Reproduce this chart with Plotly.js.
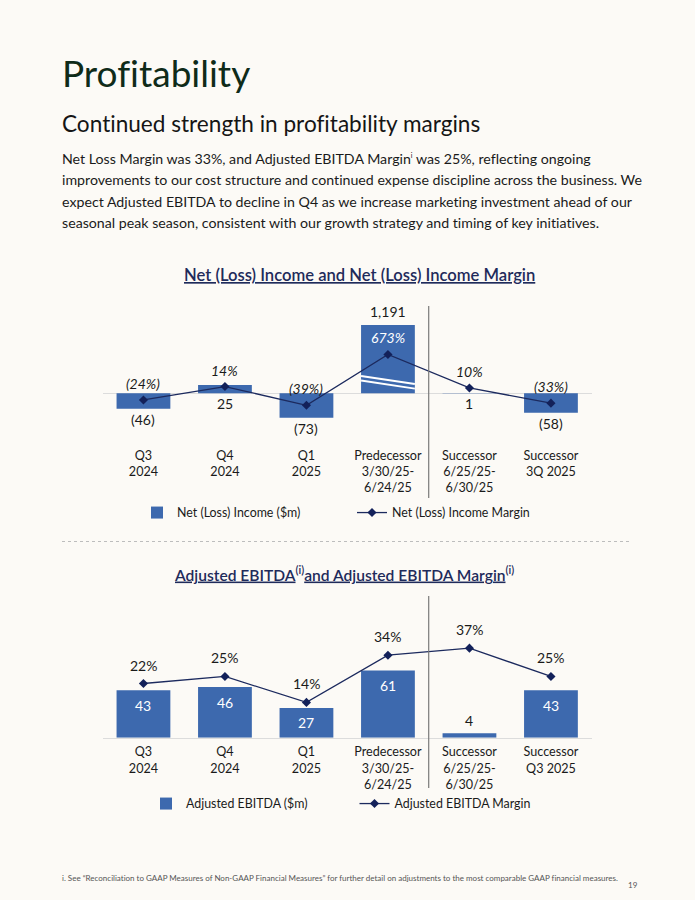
<!DOCTYPE html>
<html>
<head>
<meta charset="utf-8">
<script src="https://cdn.plot.ly/plotly-3.0.1.min.js"></script>
<style>
  html, body { margin: 0; padding: 0; background: #FCFAF6; }
  #page { position: relative; width: 695px; height: 900px; overflow: hidden; background: #FCFAF6; font-family: Lato, "Open Sans", sans-serif; font-variant-ligatures: none; }
  #chart { position: absolute; left: 0; top: 0; width: 695px; height: 900px; }
  #chart text { font-variant-ligatures: none; }
  .txt { position: absolute; left: 62px; z-index: 2; white-space: nowrap; font-variant-ligatures: none; }
  #h1 { top: 50px; font-size: 37px; color: #0F2B19; font-weight: 400; }
  #h2 { top: 110px; font-size: 22.6px; color: #151515; }
  #para { top: 148px; font-size: 14.2px; line-height: 21.3px; color: #1A1A1A; }
  #para sup { font-size: 7px; vertical-align: 6px; line-height: 0; }
  #foot { top: 873px; font-size: 8px; color: #555; }
  #pnum { top: 880px; left: 628px; font-size: 8px; color: #555; }
</style>
</head>
<body>
<div id="page">
  <div id="chart"></div>
  <div class="txt" id="h1">Profitability</div>
  <div class="txt" id="h2">Continued strength in profitability margins</div>
  <div class="txt" id="para">Net Loss Margin was 33%, and Adjusted EBITDA Margin<sup>i</sup> was 25%, reflecting ongoing<br>improvements to our cost structure and continued expense discipline across the business. We<br>expect Adjusted EBITDA to decline in Q4 as we increase marketing investment ahead of our<br>seasonal peak season, consistent with our growth strategy and timing of key initiatives.</div>
  <div class="txt" id="foot">i. See “Reconciliation to GAAP Measures of Non-GAAP Financial Measures” for further detail on adjustments to the most comparable GAAP financial measures.</div>
  <div class="txt" id="pnum">19</div>
</div>
<script>
// ---------------- data ----------------
const netCategories = ["Q3<br>2024", "Q4<br>2024", "Q1<br>2025", "Predecessor<br>3/30/25-<br>6/24/25", "Successor<br>6/25/25-<br>6/30/25", "Successor<br>3Q 2025"];
const netIncome = [-46, 25, -73, 1191, 1, -58];          // $m
const netMargin = [-24, 14, -39, 673, 10, -33];          // %

const ebitdaCategories = ["Q3<br>2024", "Q4<br>2024", "Q1<br>2025", "Predecessor<br>3/30/25-<br>6/24/25", "Successor<br>6/25/25-<br>6/30/25", "Successor<br>Q3 2025"];
const adjEbitda = [43, 46, 27, 61, 4, 43];               // $m
const adjMargin = [22, 25, 14, 34, 37, 25];              // %

// broken-axis display settings (chart 1)
const NET_AXIS_TOP = 204;        // bar axis is cut here (the 1,191 bar is truncated)
const MARGIN_BREAK_AT = 105;     // margin line shown capped at this value on its broken axis

// ---------------- styles ----------------
const BAR = "#3D69AE";
const LINE = "#1C2A5E";
const FONT = "Lato, 'Open Sans', sans-serif";
const TXT = "#1A1A1A";
const W = 695, H = 900;
const px = v => v / W;
const py = v => 1 - v / H;

const fmtNum = v => {
  const s = Math.abs(v).toLocaleString("en-US");
  return v < 0 ? "(" + s + ")" : s;
};
const fmtPct = v => (v < 0 ? "(" + Math.abs(v) + "%)" : v + "%");

const netMarginShown = netMargin.map(v => Math.min(v, MARGIN_BREAK_AT));

const traces = [
  { type: "bar", x: netCategories, y: netIncome, xaxis: "x", yaxis: "y", width: 0.66,
    marker: { color: BAR }, name: "Net (Loss) Income ($m)", legend: "legend", hoverinfo: "skip" },
  { type: "scatter", mode: "lines+markers", x: netCategories, y: netMarginShown, xaxis: "x", yaxis: "y2",
    line: { color: LINE, width: 1.3 }, marker: { symbol: "diamond", size: 7, color: "#13215A" },
    name: "Net (Loss) Income Margin", legend: "legend", cliponaxis: false, hoverinfo: "skip" },
  { type: "bar", x: ebitdaCategories, y: adjEbitda, xaxis: "x2", yaxis: "y3", width: 0.66,
    marker: { color: BAR }, name: "Adjusted EBITDA ($m)", legend: "legend2", hoverinfo: "skip" },
  { type: "scatter", mode: "lines+markers", x: ebitdaCategories, y: adjMargin, xaxis: "x2", yaxis: "y4",
    line: { color: LINE, width: 1.3 }, marker: { symbol: "diamond", size: 7, color: "#13215A" },
    name: "Adjusted EBITDA Margin", legend: "legend2", cliponaxis: false, hoverinfo: "skip" }
];

const annotations = [];
// chart titles
annotations.push({ xref: "paper", yref: "paper", x: px(359), y: py(275), text: "<u>Net (Loss) Income and Net (Loss) Income Margin</u>",
  showarrow: false, font: { family: FONT, size: 16.6, color: "#1F2B5B", weight: 600 }, xanchor: "center", yanchor: "middle" });
annotations.push({ xref: "paper", yref: "paper", x: px(344), y: py(573),
  text: "<u>Adjusted EBITDA</u><sup><span style=\"font-size:11px\">(i)</span></sup><u>and Adjusted EBITDA Margin</u><sup><span style=\"font-size:11px\">(i)</span></sup>",
  showarrow: false, font: { family: FONT, size: 15.6, color: "#1F2B5B", weight: 600 }, xanchor: "center", yanchor: "middle" });

// chart 1 bar labels
netIncome.forEach((v, i) => {
  const clipped = v > NET_AXIS_TOP;
  let a = { xref: "x", yref: "y", x: netCategories[i], showarrow: false, text: fmtNum(v),
    font: { family: FONT, size: 14, color: TXT }, xanchor: "center" };
  if (clipped) { a.y = NET_AXIS_TOP; a.yanchor = "bottom"; a.yshift = 3; }
  else if (v >= 0) { a.y = 0; a.yanchor = "top"; a.yshift = 0; }
  else { a.y = v; a.yanchor = "top"; a.yshift = 0; }
  annotations.push(a);
});
// chart 1 margin labels
netMargin.forEach((v, i) => {
  const inside = v > MARGIN_BREAK_AT;
  annotations.push({ xref: "x", yref: "y2", x: netCategories[i], y: inside ? MARGIN_BREAK_AT : v,
    text: "<i>" + fmtPct(v) + "</i>", showarrow: false, xanchor: "center", yanchor: "bottom", yshift: 6,
    font: { family: FONT, size: 14, color: inside ? "#FFFFFF" : TXT } });
});
// chart 2 bar labels
adjEbitda.forEach((v, i) => {
  const small = v < 10;
  annotations.push({ xref: "x2", yref: "y3", x: ebitdaCategories[i], y: v, text: String(v), showarrow: false,
    xanchor: "center", yanchor: small ? "bottom" : "middle", yshift: small ? 2 : -15,
    font: { family: FONT, size: 14, color: small ? TXT : "#FFFFFF" } });
});
// chart 2 margin labels
adjMargin.forEach((v, i) => {
  annotations.push({ xref: "x2", yref: "y4", x: ebitdaCategories[i], y: v, text: fmtPct(v), showarrow: false,
    xanchor: "center", yanchor: "bottom", yshift: 8, font: { family: FONT, size: 14, color: TXT } });
});

const shapes = [
  // divider predecessor / successor
  { type: "line", xref: "x", yref: "paper", x0: 3.5, x1: 3.5, y0: py(306), y1: py(498), line: { color: "#7A7A7A", width: 1.2 } },
  { type: "line", xref: "x2", yref: "paper", x0: 3.5, x1: 3.5, y0: py(596), y1: py(788), line: { color: "#7A7A7A", width: 1.2 } },
  // axis-break marks on the truncated bar
  { type: "line", xref: "x", yref: "y", x0: 2.67, x1: 3.33, y0: 52, y1: 28, line: { color: "#FFFFFF", width: 2 } },
  { type: "line", xref: "x", yref: "y", x0: 2.67, x1: 3.33, y0: 38, y1: 14, line: { color: "#FFFFFF", width: 2 } },
  // dotted separator between charts
  { type: "line", xref: "paper", yref: "paper", x0: px(62), x1: px(632), y0: py(541.5), y1: py(541.5), line: { color: "#BDBDBD", width: 1, dash: "dot" } }
];

const xCommon = { type: "category", range: [-0.5, 5.5], showgrid: false, zeroline: false, ticks: "", fixedrange: true,
  ticklabelstandoff: 4, tickfont: { family: FONT, size: 12.6, color: TXT }, domain: [px(102.7), px(591.7)] };

const layout = {
  width: W, height: H,
  margin: { l: 0, r: 0, t: 0, b: 0 },
  paper_bgcolor: "rgba(0,0,0,0)", plot_bgcolor: "rgba(0,0,0,0)",
  font: { family: FONT, color: TXT },
  showlegend: true,
  xaxis: Object.assign({}, xCommon, { anchor: "y", showline: false }),
  yaxis: { domain: [py(442), py(325)], range: [-145.4, NET_AXIS_TOP], showgrid: false, showticklabels: false,
    zeroline: true, zerolinecolor: "#DCDCDC", zerolinewidth: 1.5, showline: false, fixedrange: true },
  yaxis2: { overlaying: "y", range: [-143.1, 188.4], visible: false, fixedrange: true },
  xaxis2: Object.assign({}, xCommon, { anchor: "y3", showline: true, linecolor: "#DCDCDC", linewidth: 1.5, ticklabelstandoff: 2 }),
  yaxis3: { domain: [py(737.7), py(600)], range: [0, 125], showgrid: false, showticklabels: false, zeroline: false, showline: false, fixedrange: true },
  yaxis4: { overlaying: "y3", range: [-0.97, 57.4], visible: false, fixedrange: true },
  legend: { orientation: "h", x: px(137), y: py(513), xanchor: "left", yanchor: "middle", entrywidth: 170, entrywidthmode: "pixels",
    font: { family: FONT, size: 12.4, color: TXT }, bgcolor: "rgba(0,0,0,0)", itemwidth: 30, traceorder: "normal" },
  legend2: { orientation: "h", x: px(146), y: py(804), xanchor: "left", yanchor: "middle", entrywidth: 163.5, entrywidthmode: "pixels",
    font: { family: FONT, size: 12.4, color: TXT }, bgcolor: "rgba(0,0,0,0)", itemwidth: 30, traceorder: "normal" },
  annotations: annotations,
  shapes: shapes
};

Plotly.newPlot("chart", traces, layout, { staticPlot: true, displayModeBar: false });
</script>
</body>
</html>
